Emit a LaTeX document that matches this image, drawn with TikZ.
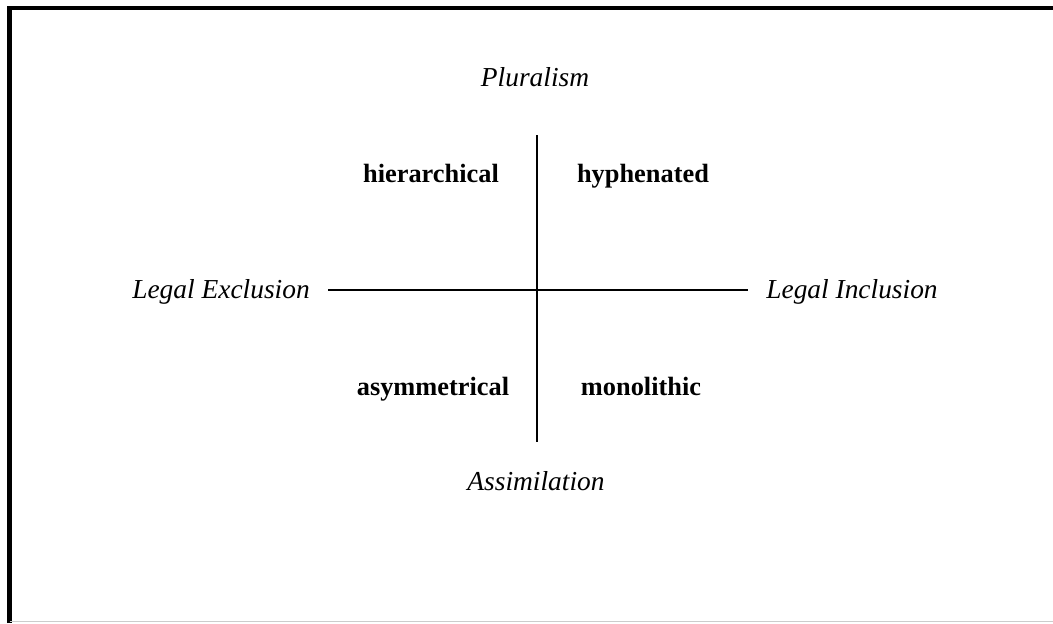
\documentclass[tikz,border=0pt]{standalone}
\usepackage{fontspec}
\setmainfont{Liberation Serif}
\begin{document}
\begin{tikzpicture}
    [  every node/.style={inner sep=0pt,anchor=base},%
    axe/.style={line width=1.1pt,black},
    cadre/.style={line width=2.3pt,black}]
    \tikzstyle{pole}=[font=\fontsize{15.6}{18}\selectfont\itshape]
    \tikzstyle{quadrant}=[font=\fontsize{15}{18}\selectfont\bfseries]
    \useasboundingbox (0,0) rectangle (21.06,-12.46);
    % frame
    \draw[cadre] (0.19,-12.46) -- (0.19,-0.16) -- (21.06,-0.16);
    \draw[line width=0.6pt,black!20] (0.19,-12.43) -- (21.06,-12.43);

    \node[pole] (P) at (10.70,-1.72) {Pluralism};
    \node[pole] (A) at (10.72,-9.80) {Assimilation};
    \node[pole] (E) at (4.42,-5.96) {Legal Exclusion};
    \node[pole] (I) at (17.04,-5.96) {Legal Inclusion};

    \node[quadrant] (H) at (8.62,-3.64) {hierarchical};
    \node[quadrant] (Y) at (12.86,-3.64) {hyphenated};
    \node[quadrant] (S) at (8.66,-7.90) {asymmetrical};
    \node[quadrant] (M) at (12.82,-7.90) {monolithic};

    \coordinate (haut) at (10.74,-2.70);
    \coordinate (bas) at (10.74,-8.84);
    \coordinate (gauche) at (6.56,-5.80);
    \coordinate (droite) at (14.96,-5.80);

    \draw[axe] (haut) -- (bas);
    \draw[axe] (gauche) -- (droite);
\end{tikzpicture}
\end{document}
